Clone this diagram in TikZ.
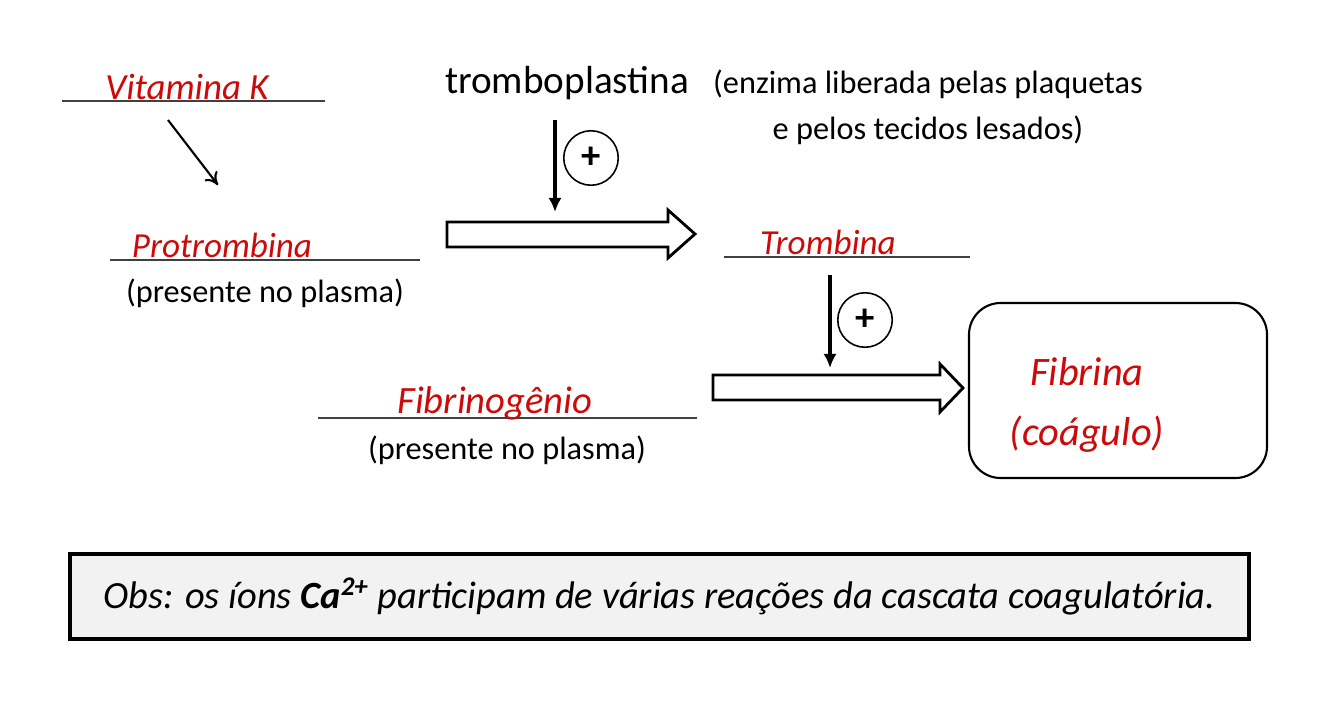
\documentclass[tikz,border=0pt]{standalone}
\usepackage{fontspec}
\setmainfont{Carlito}
\usepackage{xcolor}
\usetikzlibrary{arrows.meta,positioning}
\definecolor{penred}{RGB}{205,10,10}
\definecolor{notegray}{RGB}{242,242,242}

\begin{document}
\begin{tikzpicture}[x=0.02cm, y=-0.02cm]
    \tikzstyle{hand} = [text=penred, font=\fontsize{20}{24}\selectfont\itshape, inner sep=0pt]
    \tikzstyle{plain} = [font=\fontsize{18.4}{22}\selectfont, inner sep=0pt]
    \tikzstyle{blank} = [draw=black!75, line width=1.2pt]
    \tikzstyle{plus} = [circle, draw, line width=0.9pt, minimum size=31pt, inner sep=0pt, font=\fontsize{22}{22}\selectfont\bfseries]
    \tikzstyle{fat} = [draw, line width=1.6pt, fill=white, line join=miter]
    \tikzstyle{push} = [-{Latex[length=8pt,width=7.5pt]}, line width=2pt]
    \useasboundingbox (0,0) rectangle (1334,720);

    % Vitamina K
    \coordinate (vitkL) at (62,101);
    \coordinate (vitkR) at (325,101);
    \draw [blank] (vitkL) -- (vitkR);
    \node [hand, anchor=base, font=\fontsize{21}{24}\selectfont\itshape] (vitk) at (187,99) {Vitamina K};
    \coordinate (vitkend) at (218,185);
    \draw [-{To[length=7pt,width=9pt]}, line width=1.2pt] (168,120) -- (vitkend);

    % Protrombina
    \coordinate (protL) at (110,260);
    \coordinate (protR) at (420,260);
    \draw [blank] (protL) -- (protR);
    \node [hand, anchor=base] (prot) at (222,257) {Protrombina};
    \node [plain] (protnote) at (265,293) {(presente no plasma)};

    % tromboplastina
    \node [plain, font=\fontsize{22.3}{26}\selectfont] (trombopl) at (567,83) {tromboplastina};
    \node [plain, align=center] (enzima) at (928,107) {(enzima liberada pelas plaquetas\\[4pt]e pelos tecidos lesados)};
    \coordinate (trtop) at (555,120);
    \coordinate (trbot) at (555,212);
    \draw [push] (trtop) -- (trbot);
    \node [plus] (plus1) at (591,158) {+};

    % first conversion arrow
    \draw [fat] (447,222) -- (668,222) -- (668,210) -- (695,234) -- (668,258) -- (668,247) -- (447,247) -- cycle;

    % Trombina
    \coordinate (tromL) at (724,257);
    \coordinate (tromR) at (970,257);
    \draw [blank] (tromL) -- (tromR);
    \node [hand, anchor=base] (trom) at (828,254) {Trombina};
    \coordinate (tmtop) at (830,275);
    \coordinate (tmbot) at (830,368);
    \draw [push] (tmtop) -- (tmbot);
    \node [plus] (plus2) at (865,320) {+};

    % second conversion arrow
    \draw [fat] (713,375) -- (940,375) -- (940,364) -- (963,388) -- (940,412) -- (940,400) -- (713,400) -- cycle;

    % Fibrinogenio
    \coordinate (fibgL) at (318,418);
    \coordinate (fibgR) at (697,418);
    \draw [blank] (fibgL) -- (fibgR);
    \node [hand, anchor=base, font=\fontsize{22}{24}\selectfont\itshape] (fibg) at (495,413) {Fibrinogênio};
    \node [plain] (fibgnote) at (507,450) {(presente no plasma)};

    % Fibrina
    \node [draw, line width=1.2pt, rounded corners=18pt, minimum width=298*0.02cm, minimum height=175*0.02cm] (clot) at (1118,390.5) {};
    \node [hand, align=center, font=\fontsize{23}{26}\selectfont\itshape] (fibr) at (1087,405) {Fibrina\\[8pt](coágulo)};

    % Obs
    \node [draw, line width=2pt, fill=notegray, minimum width=1179*0.02cm, minimum height=85*0.02cm,
           font=\fontsize{21.9}{24}\selectfont\itshape] (obs) at (659.5,596.5)
          {Obs: os íons \textbf{Ca\textsuperscript{2+}} participam de várias reações da cascata coagulatória.};
\end{tikzpicture}
\end{document}
